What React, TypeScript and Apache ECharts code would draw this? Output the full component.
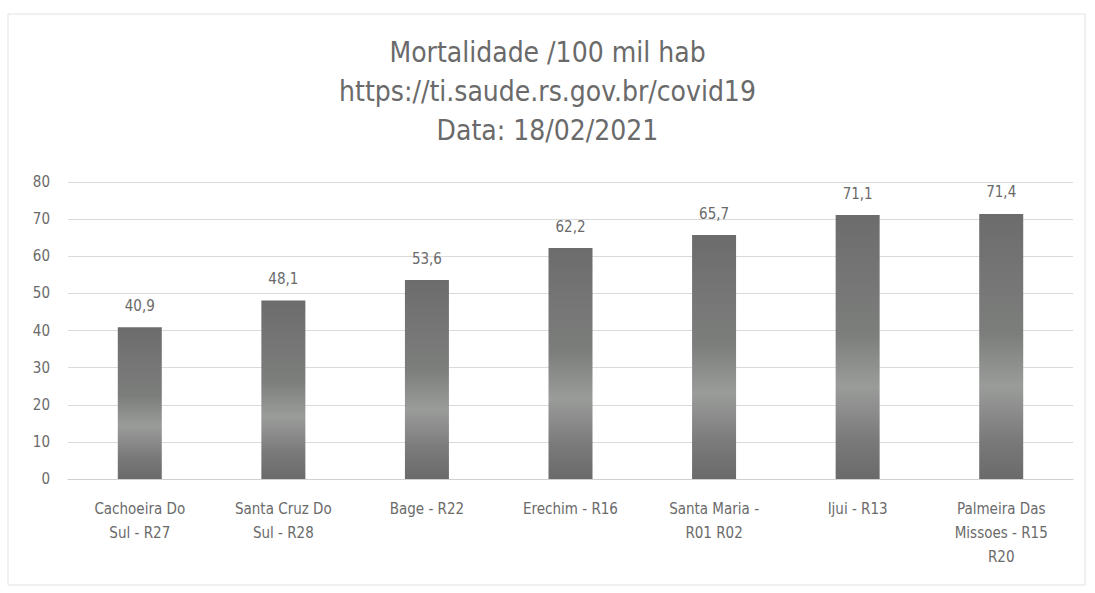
import React, { useEffect, useRef } from "react";
import * as echarts from "echarts";

const categories = [
  "Cachoeira Do\nSul - R27",
  "Santa Cruz Do\nSul - R28",
  "Bage - R22",
  "Erechim - R16",
  "Santa Maria -\nR01 R02",
  "Ijui - R13",
  "Palmeira Das\nMissoes - R15\nR20",
];
const values = [40.9, 48.1, 53.6, 62.2, 65.7, 71.1, 71.4];
const titleLines = [
  "Mortalidade /100 mil hab",
  "https://ti.saude.rs.gov.br/covid19",
  "Data: 18/02/2021",
];

export default function App() {
  const ref = useRef<HTMLDivElement>(null);
  useEffect(() => {
    if (!ref.current) return;
    const chart = echarts.init(ref.current, null, { renderer: "svg" });
    const font = "'Liberation Sans Narrow', 'DejaVu Sans Condensed', 'Liberation Sans', sans-serif";
    chart.setOption({
      animation: false,
      backgroundColor: "#ffffff",
      textStyle: { fontFamily: font },
      title: {
        text: titleLines.join("\n"),
        left: "center",
        top: 28,
        textStyle: {
          fontFamily: font,
          fontSize: 28,
          fontWeight: "normal",
          color: "#6a6a6a",
          lineHeight: 39,
        },
      },
      graphic: [
        {
          type: "rect",
          shape: { x: 8, y: 14, width: 1077, height: 571 },
          style: { fill: "none", stroke: "#e2e2e2", lineWidth: 1 },
          silent: true,
        },
      ],
      grid: { left: 68, right: 22, top: 182, bottom: 114 },
      xAxis: {
        type: "category",
        data: categories,
        axisLine: { show: true, lineStyle: { color: "#d0d0d0" } },
        axisTick: { show: false },
        axisLabel: {
          color: "#6a6a6a",
          fontSize: 15,
          lineHeight: 24,
          margin: 18,
          interval: 0,
          fontFamily: font,
        },
      },
      yAxis: {
        type: "value",
        min: 0,
        max: 80,
        interval: 10,
        axisLine: { show: false },
        axisTick: { show: false },
        axisLabel: { color: "#6a6a6a", fontSize: 15, margin: 18, fontFamily: font },
        splitLine: { lineStyle: { color: "#dadada", width: 1 } },
      },
      series: [
        {
          type: "bar",
          data: values,
          barWidth: 44,
          itemStyle: {
            color: new echarts.graphic.LinearGradient(0, 0, 0, 1, [
              { offset: 0, color: "#6c6c6c" },
              { offset: 0.45, color: "#7c7e7c" },
              { offset: 0.65, color: "#9a9c9a" },
              { offset: 0.85, color: "#7a7a7a" },
              { offset: 1, color: "#6a6a6a" },
            ]),
          },
          label: {
            show: true,
            position: "top",
            distance: 14,
            color: "#6a6a6a",
            fontSize: 15,
            fontFamily: font,
            formatter: (p: any) => String(p.value).replace(".", ","),
          },
        },
      ],
    });
    return () => chart.dispose();
  }, []);
  return <div ref={ref} style={{ width: 1095, height: 593, position: "absolute", left: 0, top: 0 }} />;
}
